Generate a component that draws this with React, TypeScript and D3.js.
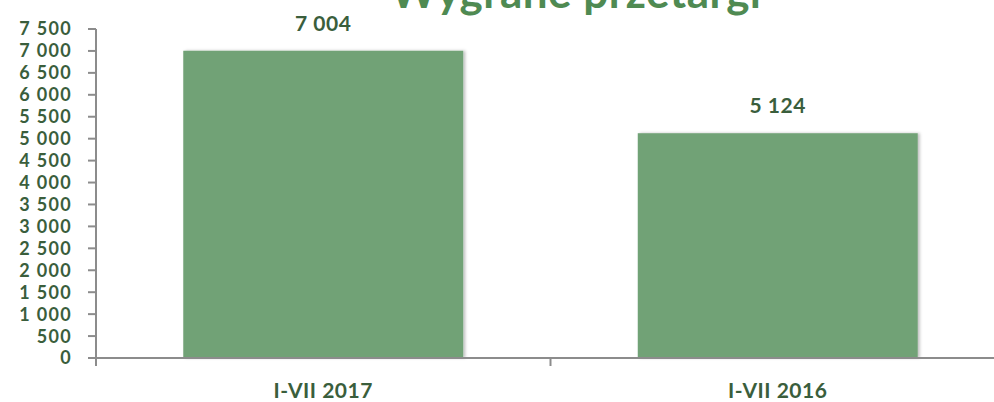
import React from 'react';
import * as d3 from 'd3';

const categories = ['I-VII 2017', 'I-VII 2016'];
const values = [7004, 5124];
const yTicks = [0, 500, 1000, 1500, 2000, 2500, 3000, 3500, 4000, 4500, 5000, 5500, 6000, 6500, 7000, 7500];
const title = 'Wygrane przetargi';

const W = 994;
const H = 402;
const font = 'Lato, "Open Sans", sans-serif';
const textColor = '#3a5e3c';

const fmt = (v: number) => d3.format(',')(v).replace(/,/g, ' ');

const App = () => {
  const y = d3.scaleLinear().domain([0, 7500]).range([358, 29]);
  const x = d3
    .scaleBand<string>()
    .domain(categories)
    .range([96, 1005])
    .paddingInner(0.384)
    .paddingOuter(0.192);
  const step = x.step();

  return (
    <svg width={W} height={H} style={{ position: 'absolute', left: 0, top: 0 }}>
      <defs>
        <filter id="shadow" x="-5%" y="-5%" width="115%" height="115%">
          <feDropShadow dx="2" dy="0" stdDeviation="1.5" floodColor="#000" floodOpacity="0.25" />
        </filter>
      </defs>
      <text
        x={576}
        y={8}
        textAnchor="middle"
        fontFamily={font}
        fontWeight="bold"
        fontSize={44}
        letterSpacing={0.5}
        fill="#4f8a52"
      >
        {title}
      </text>

      {/* bars */}
      {values.map((v, i) => (
        <g key={categories[i]}>
          <rect
            x={x(categories[i])}
            y={y(v)}
            width={x.bandwidth()}
            height={y(0) - y(v)}
            fill="#71a276"
            filter="url(#shadow)"
          />
          <text
            x={(x(categories[i]) as number) + x.bandwidth() / 2}
            y={y(v) - 20}
            textAnchor="middle"
            fontFamily={font}
            fontWeight="bold"
            fontSize={21}
            letterSpacing={0.5}
            fill={textColor}
          >
            {fmt(v)}
          </text>
        </g>
      ))}

      {/* y axis */}
      <line x1={96} x2={96} y1={y(7500)} y2={y(0) + 8} stroke="#8c8c8c" strokeWidth={2} />
      {yTicks.map(t => (
        <g key={t}>
          <line x1={88} x2={96} y1={y(t)} y2={y(t)} stroke="#8c8c8c" strokeWidth={2} />
          <text
            x={72}
            y={y(t)}
            dy="0.36em"
            textAnchor="end"
            fontFamily={font}
            fontWeight="bold"
            fontSize={18}
            letterSpacing={1.3}
            fill={textColor}
          >
            {fmt(t)}
          </text>
        </g>
      ))}

      {/* x axis */}
      <line x1={88} x2={W} y1={y(0)} y2={y(0)} stroke="#8c8c8c" strokeWidth={2} />
      {categories.map((c, i) => (
        <line
          key={'t' + c}
          x1={96 + step * (i + 1)}
          x2={96 + step * (i + 1)}
          y1={y(0)}
          y2={y(0) + 8}
          stroke="#8c8c8c"
          strokeWidth={2}
        />
      ))}
      {categories.map(c => (
        <text
          key={c}
          x={(x(c) as number) + x.bandwidth() / 2}
          y={398}
          textAnchor="middle"
          fontFamily={font}
          fontWeight="bold"
          fontSize={21}
          letterSpacing={0.5}
          fill={textColor}
        >
          {c}
        </text>
      ))}
    </svg>
  );
};

export default App;
